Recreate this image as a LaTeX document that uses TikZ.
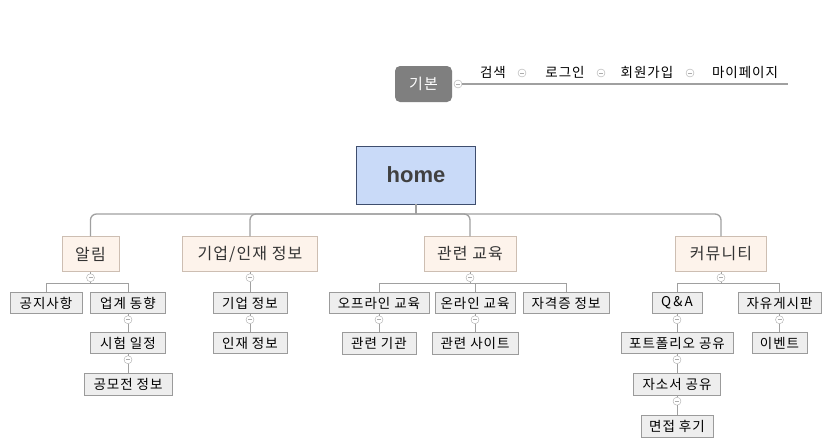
\documentclass[tikz,border=0pt]{standalone}
\usepackage{fontspec}
\setmainfont{Noto Sans CJK KR}[LetterSpace=7]
\newfontfamily\homefont{Liberation Sans}
\definecolor{homeblue}{RGB}{201,218,248}
\definecolor{homeline}{RGB}{63,78,110}
\definecolor{peach}{RGB}{253,243,235}
\definecolor{peachline}{RGB}{205,190,178}
\definecolor{subgray}{RGB}{238,238,238}
\definecolor{subline}{RGB}{155,155,155}
\definecolor{linegray}{RGB}{160,160,160}
\definecolor{gibongray}{RGB}{127,127,127}
\tikzset{
  topic/.style={draw=peachline, fill=peach, minimum height=35pt, inner sep=0pt, text=black!80, font=\fontsize{16}{19}\selectfont},
  sub/.style={draw=subline, fill=subgray, minimum height=21pt, inner sep=0pt, font=\fontsize{13.5}{16}\selectfont},
  toplabel/.style={inner sep=0pt, font=\fontsize{13.5}{16}\selectfont},
  fold/.style={circle, draw=gray!65, fill=white, minimum size=8pt, inner sep=0pt,
    path picture={\draw[gray!65, line width=0.7pt] ([xshift=2pt]path picture bounding box.west) -- ([xshift=-2pt]path picture bounding box.east);}},
  branch/.style={draw=linegray, line width=1.3pt, rounded corners=6pt},
  twig/.style={draw=linegray, line width=1pt},
}
\begin{document}
\begin{tikzpicture}[x=1pt, y=-1pt]
    \useasboundingbox[fill=white] (0,0) rectangle (830,445);
    % top bar
    \node[draw=none, fill=gibongray, rounded corners=5pt, minimum width=57pt, minimum height=36pt, text=white, font=\fontsize{15}{18}\selectfont] (gibon) at (423.5,84) {기본};
    \node[fold] (fgibon) at (458,84) {};
    \coordinate (topend) at (788,84);
    \draw[branch] (fgibon.east) -- (topend);
    \node[toplabel] (search) at (493,72) {검색};
    \node[toplabel] (login) at (565,72) {로그인};
    \node[toplabel] (join) at (647,72) {회원가입};
    \node[toplabel] (mypage) at (745,72) {마이페이지};
    \node[fold] (fsearch) at (522,73) {};
    \node[fold] (flogin) at (601,73) {};
    \node[fold] (fjoin) at (690,73) {};
    % root
    \node[draw=homeline, fill=homeblue, line width=0.9pt, minimum width=119pt, minimum height=58pt, text=black!75, font=\homefont\fontsize{22}{26}\selectfont\bfseries] (home) at (416,175) {home};
    \coordinate (hub) at (416,214);
    % main topics
    \node[topic, minimum width=57pt] (alim) at (90.5,254) {알림};
    \node[topic, minimum width=135pt] (giupin) at (250,254) {기업/인재 정보};
    \node[topic, minimum width=92pt] (edu) at (470,254) {관련 교육};
    \node[topic, minimum width=91pt] (comm) at (721,254) {커뮤니티};
    \draw[branch] (home.south) -- (hub);
    \foreach \t in {alim, giupin, edu, comm} \draw[branch] (hub) -| (\t.north);
    % subtopics
    \node[sub, minimum width=72pt] (gongji) at (46,303) {공지사항};
    \node[sub, minimum width=75pt] (upgye) at (128,303) {업계 동향};
    \node[sub, minimum width=75pt] (siheom) at (128,343) {시험 일정};
    \node[sub, minimum width=88pt, minimum height=22pt] (gongmo) at (128,384) {공모전 정보};
    \node[sub, minimum width=74pt] (giup) at (250,303) {기업 정보};
    \node[sub, minimum width=74pt] (injae) at (250,343) {인재 정보};
    \node[sub, minimum width=100pt] (offline) at (379,303) {오프라인 교육};
    \node[sub, minimum width=80pt] (online) at (475,303) {온라인 교육};
    \node[sub, minimum width=86pt] (cert) at (566,303) {자격증 정보};
    \node[sub, minimum width=74pt, minimum height=22pt] (gigwan) at (379,343) {관련 기관};
    \node[sub, minimum width=86pt, minimum height=22pt] (site) at (475,343) {관련 사이트};
    \node[sub, minimum width=50pt] (qna) at (677,303) {Q\,\&\,A};
    \node[sub, minimum width=83pt] (free) at (779.5,303) {자유게시판};
    \node[sub, minimum width=112pt] (port) at (677,343) {포트폴리오 공유};
    \node[sub, minimum width=87pt, minimum height=22pt] (jaso) at (677,384) {자소서 공유};
    \node[sub, minimum width=72pt, minimum height=22pt] (myeon) at (677,426) {면접 후기};
    \node[sub, minimum width=55pt] (event) at (779.5,343) {이벤트};
    % folds with bars
    \foreach \p/\kids in {alim/{gongji,upgye}, edu/{offline,online,cert}, comm/{qna,free}}{
        \node[fold] (f\p) at ([yshift=-6pt]\p.south) {};
        \coordinate (b\p) at ([yshift=-6pt]f\p.center);
        \draw[twig] (\p.south) -- (f\p.north) (f\p.south) -- (b\p);
        \foreach \k in \kids \draw[twig] (b\p) -| (\k.north);
    }
    % folds in chains
    \foreach \a/\b in {giupin/giup, upgye/siheom, siheom/gongmo, giup/injae, offline/gigwan, online/site, qna/port, port/jaso, jaso/myeon, free/event}{
        \node[fold] (f\a) at ([yshift=-6pt]\a.south) {};
        \draw[twig] (\a.south) -- (f\a.north) (f\a.south) -- (\b.north);
    }
\end{tikzpicture}
\end{document}
